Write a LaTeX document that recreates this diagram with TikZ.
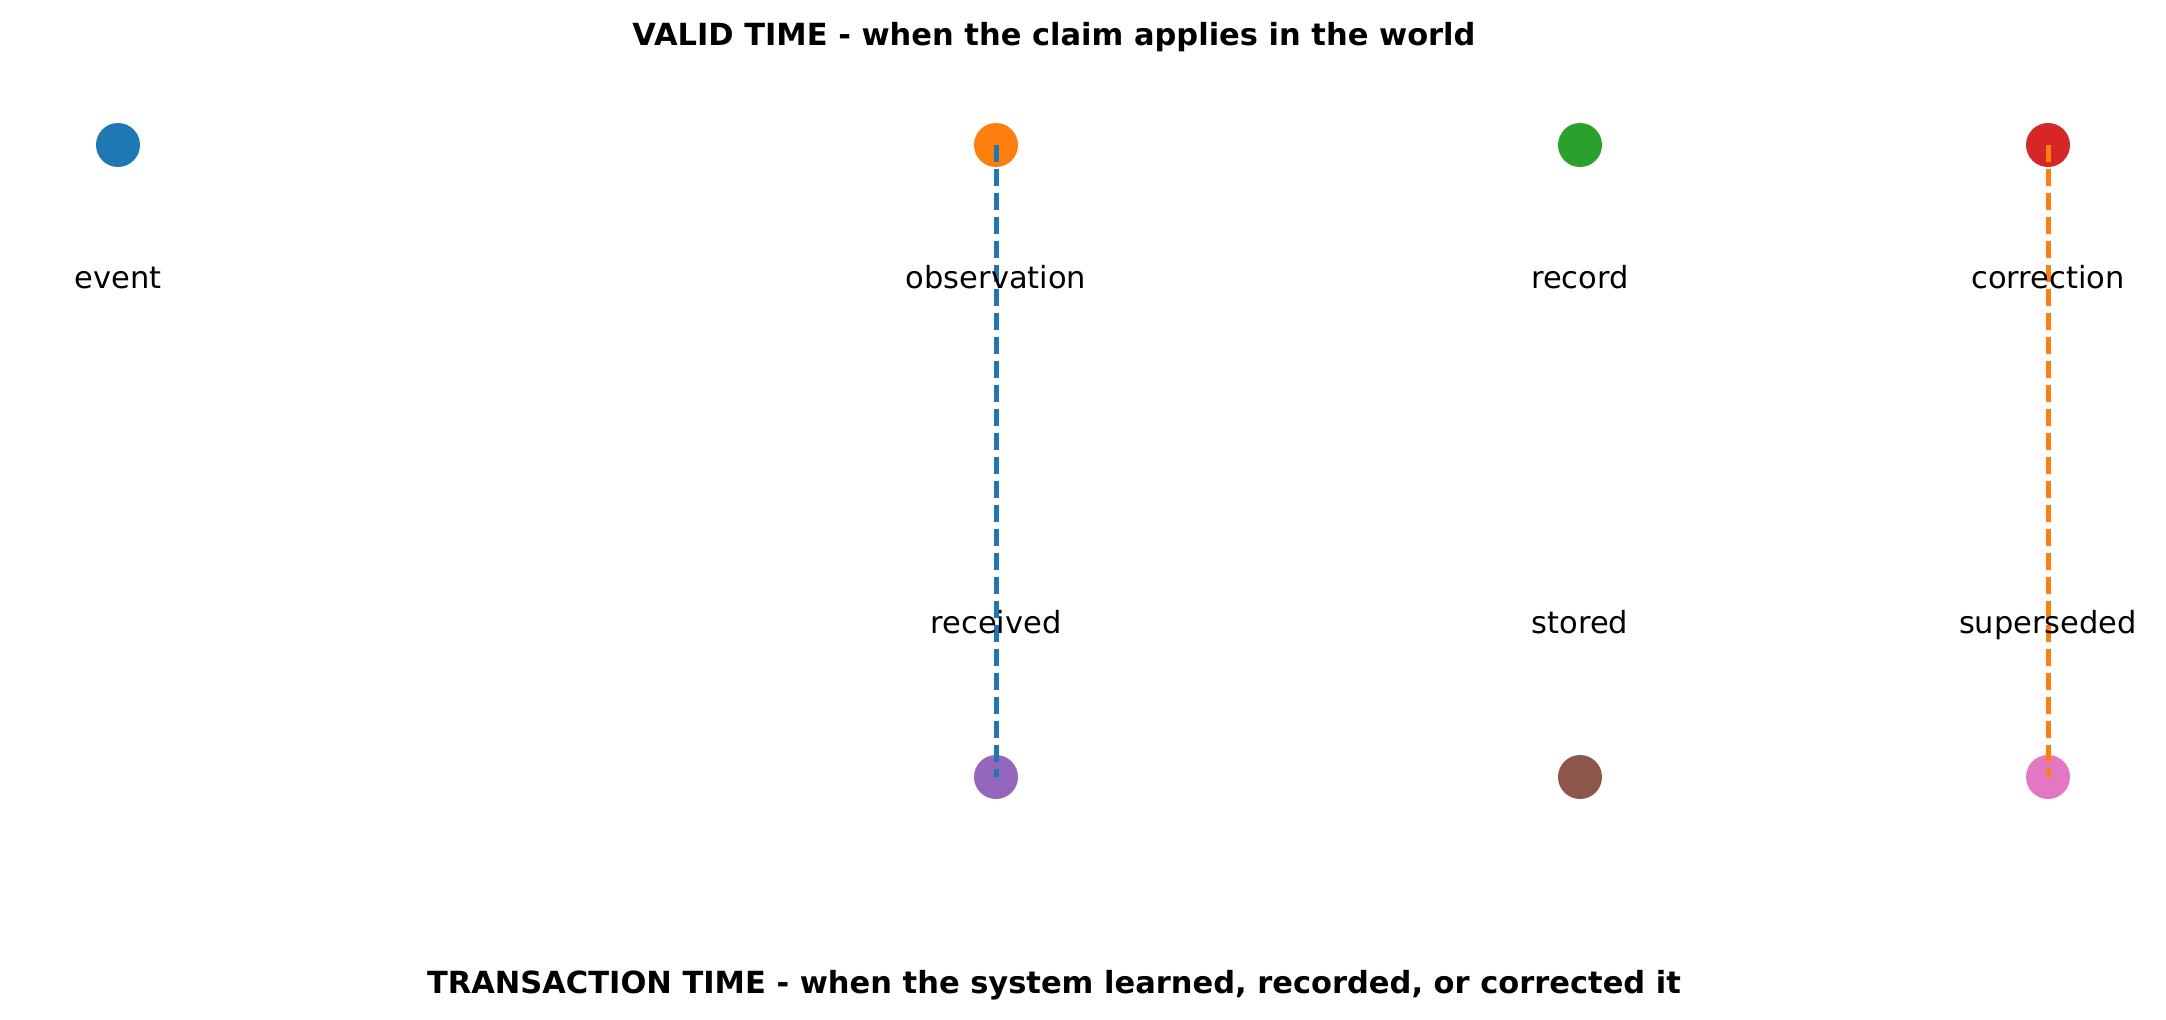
\documentclass[tikz,border=0pt]{standalone}
\usepackage{fontspec}
\setmainfont{DejaVu Sans}
\definecolor{tabblue}{HTML}{1F77B4}
\definecolor{taborange}{HTML}{FF7F0E}
\definecolor{tabgreen}{HTML}{2CA02C}
\definecolor{tabred}{HTML}{D62728}
\definecolor{tabpurple}{HTML}{9467BD}
\definecolor{tabbrown}{HTML}{8C564B}
\definecolor{tabpink}{HTML}{E377C2}
\begin{document}
\begin{tikzpicture}[x=1pt,y=-1pt,
  dot/.style={circle, fill=#1, minimum size=44pt, inner sep=0pt, draw=none},
  lbl/.style={font=\fontsize{30.5}{36}\selectfont, anchor=base, inner sep=0pt},
  ttl/.style={font=\fontsize{30.5}{36}\selectfont\bfseries, anchor=base, inner sep=0pt},
  link/.style={draw=#1, line width=5pt, dash pattern=on 17pt off 7pt}]
\useasboundingbox[fill=white] (0,0) rectangle (2166,1020);
% dots
\node[dot=tabblue] (ev) at (118,145) {};
\node[dot=taborange] (obs) at (996,145) {};
\node[dot=tabgreen] (rec) at (1580,145) {};
\node[dot=tabred] (cor) at (2048,145) {};
\node[dot=tabpurple] (rcv) at (996,777) {};
\node[dot=tabbrown] (sto) at (1580,777) {};
\node[dot=tabpink] (sup) at (2048,777) {};
% connectors
\draw[link=tabblue] (obs.center) -- (rcv.center);
\draw[link=taborange] (cor.center) -- (sup.center);
% labels
\node[lbl] (evl) at (118,288) {event};
\node[lbl] (obsl) at (996,288) {observation};
\node[lbl] (recl) at (1580,288) {record};
\node[lbl] (corl) at (2048,288) {correction};
\node[lbl] (rcvl) at (996,633) {received};
\node[lbl] (stol) at (1580,633) {stored};
\node[lbl] (supl) at (2048,633) {superseded};
% titles
\node[ttl] (vt) at (1054,45) {VALID TIME - when the claim applies in the world};
\node[ttl] (tt) at (1054,993) {TRANSACTION TIME - when the system learned, recorded, or corrected it};
\end{tikzpicture}
\end{document}
